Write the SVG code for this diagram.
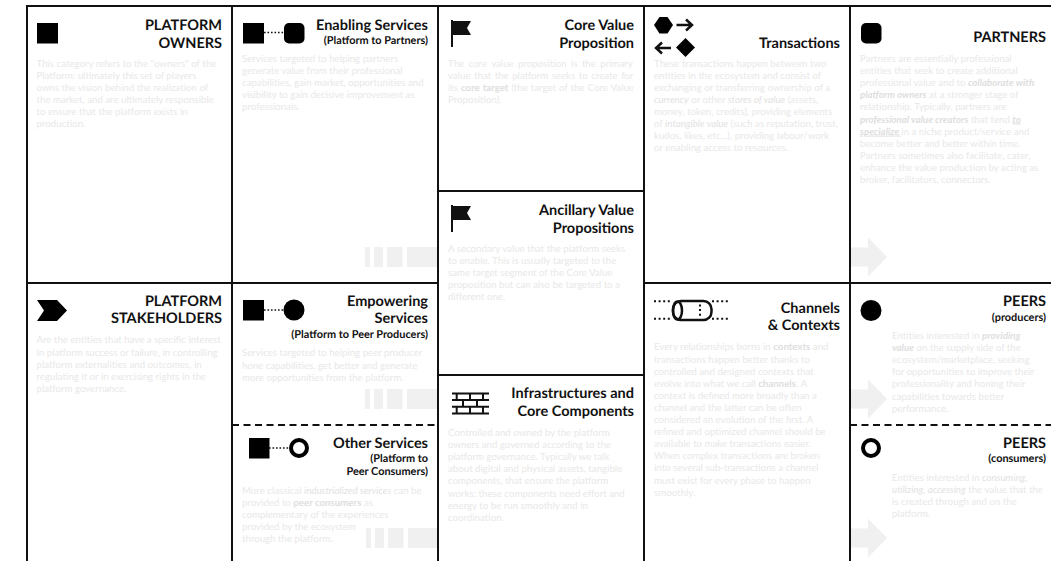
<svg xmlns="http://www.w3.org/2000/svg" width="1051" height="561" viewBox="0 0 1051 561">
<style>
text{font-family:Lato,"Noto Sans","Liberation Sans",sans-serif;text-rendering:geometricPrecision}
.t{font-size:14.500px;font-weight:700;fill:#111;text-anchor:end}
.s{font-size:10.900px;font-weight:700;fill:#111;text-anchor:end}
.b{font-size:9.700px;fill:#e8e8e8}
.b tspan.k{font-weight:700;fill:#dedede}
.b tspan.i{font-style:italic;fill:#e2e2e2}
.b tspan.bi{font-style:italic;font-weight:700;fill:#dedede}
.g{fill:none;stroke:#111;stroke-width:2}
.d{stroke-dasharray:7 4.500}
.p{fill:#f0f0f0}
.dot{fill:none;stroke:#111;stroke-width:1.600;stroke-dasharray:1.600 1.900}
.dot2{fill:none;stroke:#111;stroke-width:2;stroke-dasharray:2 2.600}
.ln{fill:none;stroke:#111;stroke-width:2}
.ln2{fill:none;stroke:#111;stroke-width:2.500}
</style>
<defs>
<g id="bars"><rect class="p" x="365" width="5" height="20"/><rect class="p" x="374" width="9" height="20"/><rect class="p" x="387" width="15.500" height="20"/><rect class="p" x="407" width="30" height="20"/></g>
<path id="arrow" class="p" d="M851 -9.500H868V-19.500L887 0L868 19.500V9.500H851Z"/>
<path id="flag" d="M451 20H453V21H471L467 28L471 35H453V47H451Z" fill="#111"/>
</defs>
<g id="platform-owners">
<rect x="37" y="23" width="21" height="20.500" fill="#000"/>
<text class="t" x="222" y="30">PLATFORM</text><text class="t" x="222" y="47.500">OWNERS</text>
<text class="b" y="66.700"><tspan x="36.500">This category refers to the "owners" of the</tspan><tspan x="36.500" dy="12.100">Platform: ultimately this set of players</tspan><tspan x="36.500" dy="12.100">owns the vision behind the realization of</tspan><tspan x="36.500" dy="12.100">the market, and are ultimately responsible</tspan><tspan x="36.500" dy="12.100">to ensure that the platform exists in</tspan><tspan x="36.500" dy="12.100">production.</tspan></text>
</g>
<g id="enabling-services">
<rect x="243" y="23" width="21" height="20.500" fill="#000"/><path class="dot" d="M264 32.500H284"/><rect x="284" y="23" width="20.500" height="20.500" rx="5" fill="#000"/>
<text class="t" x="428" y="30">Enabling Services</text><text class="s" x="428" y="43.500">(Platform to Partners)</text>
<text class="b" y="62"><tspan x="242">Services targeted to helping partners</tspan><tspan x="242" dy="12.100">generate value from their professional</tspan><tspan x="242" dy="12.100">capabilities, gain market, opportunities and</tspan><tspan x="242" dy="12.100">visibility to gain decisive improvement as</tspan><tspan x="242" dy="12.100">professionals.</tspan></text>
<use href="#bars" y="247"/>
</g>
<g id="core-value-proposition">
<use href="#flag"/>
<text class="t" x="634" y="30">Core Value</text><text class="t" x="634" y="47.500">Proposition</text>
<text class="b" y="66.700"><tspan x="448" word-spacing="1.900">The core value proposition is the primary</tspan><tspan x="448" dy="12.100" word-spacing="1.050">value that the platform seeks to create for</tspan><tspan x="448" dy="12.100" word-spacing="0.500">its <tspan class="k">core target</tspan> (the target of the Core Value</tspan><tspan x="448" dy="12.100">Proposition).</tspan></text>
</g>
<g id="ancillary-value-propositions">
<use href="#flag" y="185"/>
<text class="t" x="634" y="215">Ancillary Value</text><text class="t" x="634" y="232.500">Propositions</text>
<text class="b" y="251.700"><tspan x="448">A secondary value that the platform seeks</tspan><tspan x="448" dy="12.100">to enable. This is usually targeted to the</tspan><tspan x="448" dy="12.100">same target segment of the Core Value</tspan><tspan x="448" dy="12.100">proposition but can also be targeted to a</tspan><tspan x="448" dy="12.100">different one.</tspan></text>
</g>
<g id="transactions">
<path d="M659.500 17H667.500L673 25L667.500 33.500H659.500L654 25Z" fill="#000"/>
<path d="M676.500 25H692M686 19.500L692 25L686 30.500" class="ln2"/>
<path d="M671 48H656M662 42.500L656 48L662 53.500" class="ln2"/>
<path d="M685.500 38L695 47.500L685.500 57L676 47.500Z" fill="#000"/>
<text class="t" x="840" y="47.500">Transactions</text>
<text class="b" y="66.700"><tspan x="654">These transactions happen between two</tspan><tspan x="654" dy="12.100">entities in the ecosystem and consist of</tspan><tspan x="654" dy="12.100">exchanging or transferring ownership of a</tspan><tspan x="654" dy="12.100"><tspan class="i">currency</tspan> or other <tspan class="i">stores of value</tspan> (assets,</tspan><tspan x="654" dy="12.100">money, token, credits), providing elements</tspan><tspan x="654" dy="12.100">of <tspan class="i">intangible value</tspan> (such as reputation, trust,</tspan><tspan x="654" dy="12.100">kudos, likes, etc...), providing labour/work</tspan><tspan x="654" dy="12.100">or enabling access to resources.</tspan></text>
</g>
<g id="partners">
<rect x="861" y="23" width="20.500" height="20.500" rx="5" fill="#000"/>
<text class="t" x="1046" y="41.700">PARTNERS</text>
<text class="b" y="62"><tspan x="860">Partners are essentially professional</tspan><tspan x="860" dy="12.100">entities that seek to create additional</tspan><tspan x="860" dy="12.100">professional value and to <tspan class="bi">collaborate with</tspan></tspan><tspan x="860" dy="12.100"><tspan class="bi">platform owners</tspan> at a stronger stage of</tspan><tspan x="860" dy="12.100">relationship. Typically, partners are</tspan><tspan x="860" dy="12.100"><tspan class="bi">professional value creators</tspan> that tend <tspan class="bi" text-decoration="underline">to</tspan></tspan><tspan x="860" dy="12.100"><tspan class="bi" text-decoration="underline">specialize </tspan>in a niche product/service and</tspan><tspan x="860" dy="12.100">become better and better within time.</tspan><tspan x="860" dy="12.100">Partners sometimes also facilitate, cater,</tspan><tspan x="860" dy="12.100">enhance the value production by acting as</tspan><tspan x="860" dy="12.100">broker, facilitators, connectors.</tspan></text>
<use href="#arrow" y="257"/>
</g>
<g id="platform-stakeholders">
<path d="M37 300H57L67 310.500L57 321H37L44 310.500Z" fill="#000"/>
<text class="t" x="222" y="305.700">PLATFORM</text><text class="t" x="222" y="323.300">STAKEHOLDERS</text>
<text class="b" y="343.400"><tspan x="36.500">Are the entities that have a specific interest</tspan><tspan x="36.500" dy="12.100">in platform success or failure, in controlling</tspan><tspan x="36.500" dy="12.100">platform externalities and outcomes, in</tspan><tspan x="36.500" dy="12.100">regulating it or in exercising rights in the</tspan><tspan x="36.500" dy="12.100">platform governance.</tspan></text>
</g>
<g id="empowering-services">
<rect x="243" y="300" width="21" height="20.500" fill="#000"/><path class="dot" d="M264 310H284"/><circle cx="294" cy="310" r="10.500" fill="#000"/>
<text class="t" x="428" y="305.700">Empowering</text><text class="t" x="428" y="323.300">Services</text><text class="s" x="428" y="337.500">(Platform to Peer Producers)</text>
<text class="b" y="356.400"><tspan x="242">Services targeted to helping peer producer</tspan><tspan x="242" dy="12.100">hone capabilities, get better and generate</tspan><tspan x="242" dy="12.100">more opportunities from the platform.</tspan></text>
<use href="#bars" y="389"/>
</g>
<g id="other-services">
<rect x="249" y="438" width="20.500" height="20.500" fill="#000"/><path class="dot" d="M269 448H289"/><circle cx="299" cy="448" r="8" fill="none" stroke="#000" stroke-width="4"/>
<text class="t" x="428" y="447.700">Other Services</text><text class="s" x="428" y="462.300">(Platform to</text><text class="s" x="428" y="475">Peer Consumers)</text>
<text class="b" y="493.700"><tspan x="242">More classical <tspan class="i">industrialized services</tspan> can  be</tspan><tspan x="242" dy="12.100">provided to <tspan class="k">peer consumers</tspan> as</tspan><tspan x="242" dy="12.100">complementary of the experiences</tspan><tspan x="242" dy="12.100">provided by the ecosystem</tspan><tspan x="242" dy="12.100">through the platform.</tspan></text>
<use href="#bars" x="1" y="528"/>
</g>
<g id="infrastructures">
<path class="ln" d="M452 393.500H489M452 400H489M452 406.700H489M452 413.500H489M456.700 393.500V400M470 393.500V400M483 393.500V400M463 400V406.700M477 400V406.700M456.700 406.700V413.500M470 406.700V413.500M483 406.700V413.500"/>
<text class="t" x="634" y="398.300">Infrastructures and</text><text class="t" x="634" y="415.700">Core Components</text>
<text class="b" y="436"><tspan x="448">Controlled and owned by the platform</tspan><tspan x="448" dy="12.100">owners and governed according to the</tspan><tspan x="448" dy="12.100">platform governance. Typically we talk</tspan><tspan x="448" dy="12.100">about digital and physical assets, tangible</tspan><tspan x="448" dy="12.100">components, that ensure the platform</tspan><tspan x="448" dy="12.100">works: these components need effort and</tspan><tspan x="448" dy="12.100">energy to be run smoothly and in</tspan><tspan x="448" dy="12.100">coordination.</tspan></text>
</g>
<g id="channels-contexts">
<path class="dot2" d="M654 301.200H672M654 318.800H672M712 301.200H730M712 318.800H730"/>
<rect x="673" y="301" width="38.500" height="19" rx="8" fill="none" stroke="#111" stroke-width="2.500"/>
<ellipse cx="677.500" cy="310.500" rx="4.500" ry="9" fill="none" stroke="#111" stroke-width="2.500"/>
<path class="dot2" d="M700 304.500V317"/>
<text class="t" x="840" y="312.700">Channels</text><text class="t" x="840" y="330">&amp; Contexts</text>
<text class="b" y="350.400"><tspan x="654">Every relationships borns in <tspan class="k">contexts</tspan> and</tspan><tspan x="654" dy="12.100">transactions happen better thanks to</tspan><tspan x="654" dy="12.100">controlled and designed contexts that</tspan><tspan x="654" dy="12.100">evolve into what we call <tspan class="k">channels</tspan>. A</tspan><tspan x="654" dy="12.100">context is defined more broadly than a</tspan><tspan x="654" dy="12.100">channel and the latter can be often</tspan><tspan x="654" dy="12.100">considered an evolution of the first. A</tspan><tspan x="654" dy="12.100">refined and optimized channel should be</tspan><tspan x="654" dy="12.100">available to make transactions easier.</tspan><tspan x="654" dy="12.100">When complex transactions are broken</tspan><tspan x="654" dy="12.100">into several sub-transactions a channel</tspan><tspan x="654" dy="12.100">must exist for every phase to happen</tspan><tspan x="654" dy="12.100">smoothly.</tspan></text>
</g>
<g id="peers-producers">
<use href="#arrow" y="399"/>
<circle cx="871" cy="310.500" r="10.500" fill="#000"/>
<text class="t" x="1046" y="305.700">PEERS</text><text class="s" x="1046" y="320.700">(producers)</text>
<text class="b" y="339"><tspan x="892">Entities interested in <tspan class="bi">providing</tspan></tspan><tspan x="892" dy="12.100"><tspan class="bi">value</tspan> on the supply side of the</tspan><tspan x="892" dy="12.100">ecosystem/marketplace, seeking</tspan><tspan x="892" dy="12.100">for opportunities to improve their</tspan><tspan x="892" dy="12.100">professionality and honing their</tspan><tspan x="892" dy="12.100">capabilities towards better</tspan><tspan x="892" dy="12.100">performance.</tspan></text>
</g>
<g id="peers-consumers">
<use href="#arrow" y="538"/>
<circle cx="871" cy="448" r="8" fill="none" stroke="#000" stroke-width="4"/>
<text class="t" x="1046" y="447.700">PEERS</text><text class="s" x="1046" y="462.300">(consumers)</text>
<text class="b" y="481"><tspan x="892">Entities interested in <tspan class="i">consuming,</tspan></tspan><tspan x="892" dy="12.100"><tspan class="i">utilizing, accessing</tspan> the value that the</tspan><tspan x="892" dy="12.100">is created through and on the</tspan><tspan x="892" dy="12.100">platform.</tspan></text>
</g>
<g id="grid">
<path class="g" d="M26 6H1051M26 283H438M644 283H1051M27 6V561M232 6V561M438 6V561M644 6V561M850 6V561M438 191H644M438 375H644"/>
<path class="g d" d="M232 425H438M850 425H1051"/>
</g>
</svg>
